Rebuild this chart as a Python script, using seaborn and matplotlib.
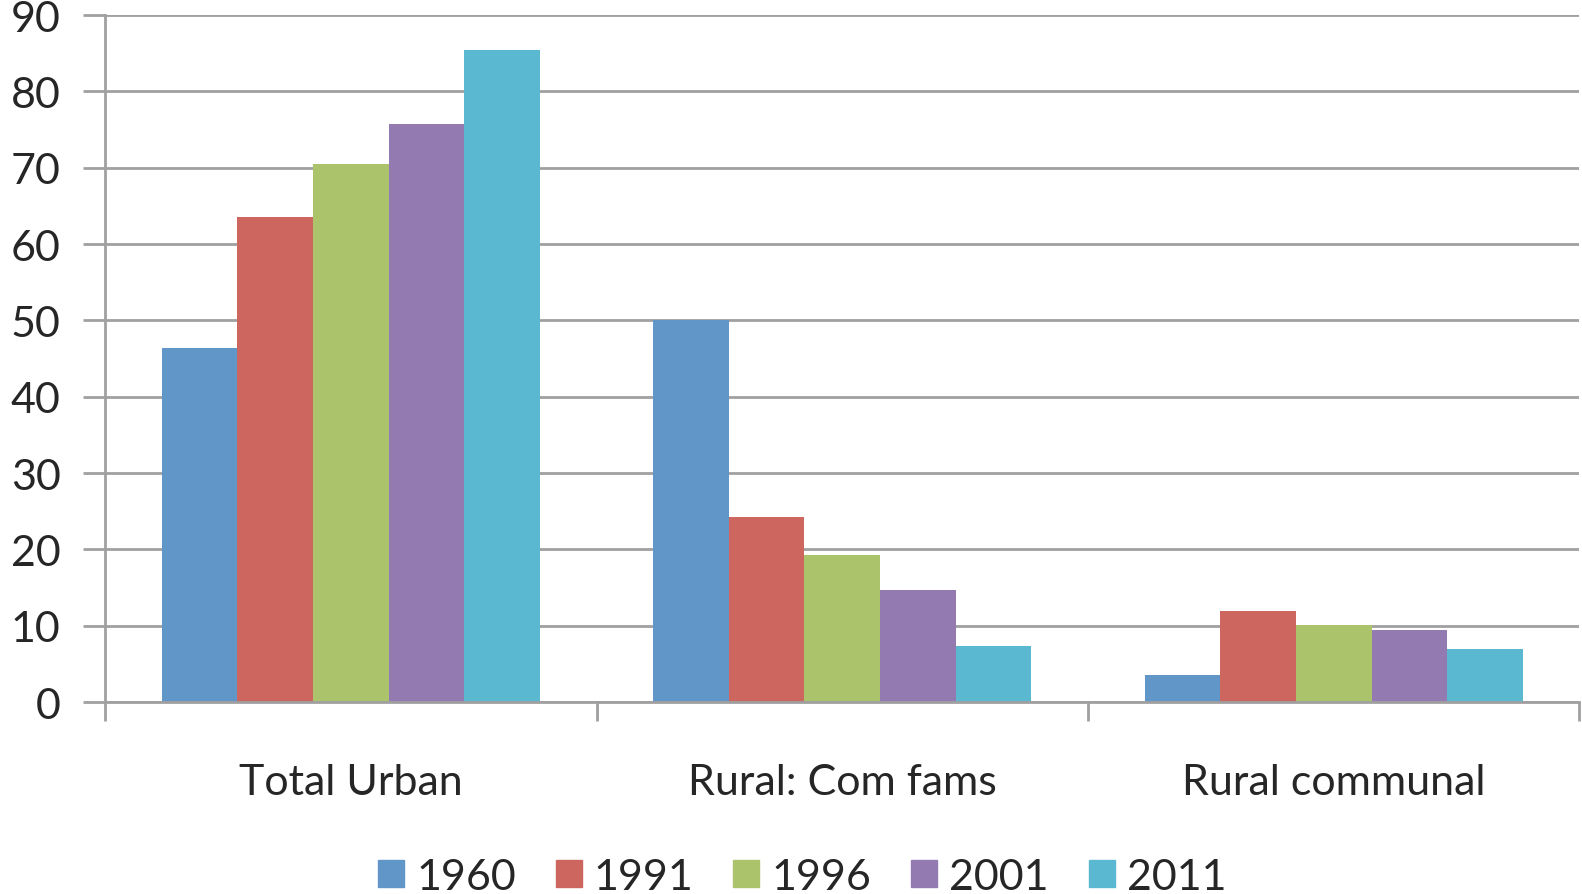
import matplotlib
matplotlib.use("Agg")
import matplotlib.pyplot as plt
import matplotlib.patches as mpatches
import seaborn as sns
import pandas as pd

categories = ["Total Urban", "Rural: Com fams", "Rural communal"]
years = ["1960", "1991", "1996", "2001", "2011"]
v1960 = [46.4, 50.0, 3.5]
v1991 = [63.6, 24.3, 11.9]
v1996 = [70.5, 19.3, 10.1]
v2001 = [75.7, 14.7, 9.5]
v2011 = [85.4, 7.4, 7.0]
colors = ["#6196C8", "#CD665F", "#ABC46C", "#937BB2", "#5AB9D1"]

series = [v1960, v1991, v1996, v2001, v2011]
rows = []
for y, vals in zip(years, series):
    for c, v in zip(categories, vals):
        rows.append({"category": c, "year": y, "value": v})
df = pd.DataFrame(rows)

sns.set_theme(style="white")
plt.rcParams["font.family"] = ["Lato", "DejaVu Sans"]

fig = plt.figure(figsize=(15.82, 8.95), dpi=100)
ax = fig.add_axes([0.0664, 0.2145, 0.932, 0.7675])

sns.barplot(data=df, x="category", y="value", hue="year", order=categories,
            hue_order=years, palette=colors, width=0.77, saturation=1,
            linewidth=0, ax=ax, legend=False)

ax.set_xlim(-0.5, 2.5)
ax.set_ylim(0, 90)
ax.set_yticks(range(0, 91, 10))
ax.yaxis.grid(True, color="#A0A0A0", linewidth=2)
ax.set_axisbelow(True)
ax.set_xlabel("")
ax.set_ylabel("")

for s in ["top", "right"]:
    ax.spines[s].set_visible(False)
for s in ["left", "bottom"]:
    ax.spines[s].set_color("#A0A0A0")
    ax.spines[s].set_linewidth(2)

ax.tick_params(axis="y", which="major", length=16, width=2, color="#A0A0A0",
               labelsize=31, pad=16, direction="out", left=True)
ax.set_xticks([-0.5, 0.5, 1.5, 2.5], minor=True)
ax.tick_params(axis="x", which="minor", length=14, width=2, color="#A0A0A0",
               direction="out", bottom=True)
ax.tick_params(axis="x", which="major", length=0, labelsize=31, pad=44)

handles = [mpatches.Patch(color=c, label=y) for c, y in zip(colors, years)]
fig.legend(handles=handles, loc="center", bbox_to_anchor=(0.507, 0.019),
           ncol=5, frameon=False, fontsize=31, handlelength=0.6,
           handleheight=0.6, handletextpad=0.28, columnspacing=0.93)

fig.savefig("out.png", dpi=100)
